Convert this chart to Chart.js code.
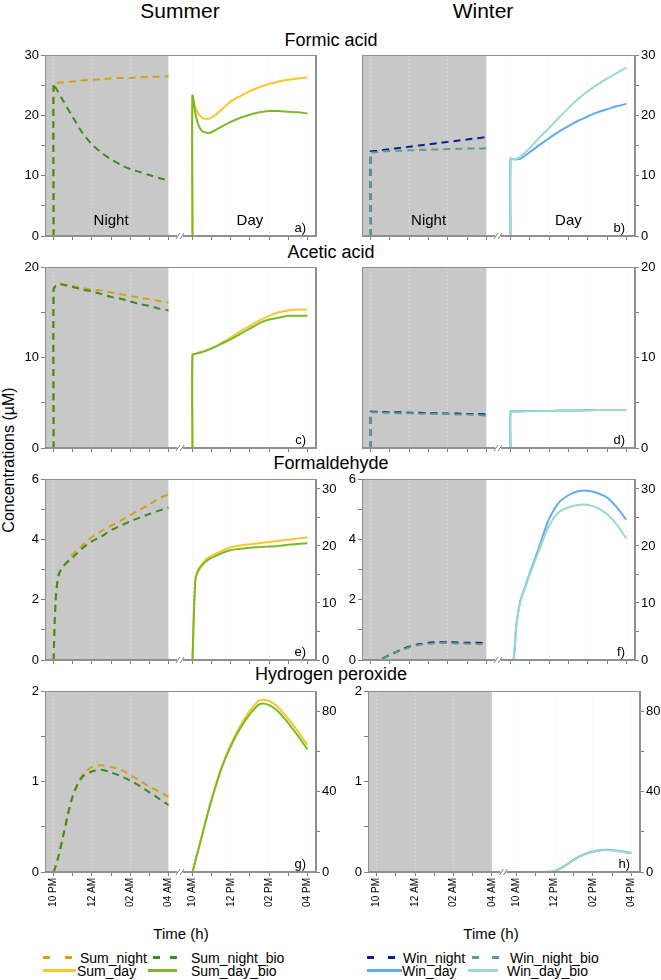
<!DOCTYPE html>
<html>
<head>
<meta charset="utf-8">
<title>Concentrations – summer vs winter</title>
<script src="https://cdn.jsdelivr.net/npm/chart.js@4.4.1/dist/chart.umd.min.js"></script>
<style>
  body { margin: 0; background: #fff; }
  #page { position: relative; width: 661px; height: 980px; overflow: hidden; font-family: 'Liberation Sans', Arial, sans-serif; color: #000; }
  #page canvas { position: absolute; }
  .lbl { position: absolute; white-space: nowrap; line-height: 1; transform: translate(-50%, -50%); }
  .leg { position: absolute; white-space: nowrap; font-size: 14px; line-height: 1; transform: translateY(-50%); }
  .sw { position: absolute; }
</style>
</head>
<body>
<div id="page">
  <div class="lbl" style="left:180px;top:10px;font-size:21px">Summer</div>
  <div class="lbl" style="left:483px;top:10px;font-size:21px">Winter</div>
  <div class="lbl" style="left:331px;top:40px;font-size:18px">Formic acid</div>
  <div class="lbl" style="left:331px;top:252px;font-size:18px">Acetic acid</div>
  <div class="lbl" style="left:331px;top:463px;font-size:18px">Formaldehyde</div>
  <div class="lbl" style="left:331px;top:674px;font-size:18px">Hydrogen peroxide</div>
  <div class="lbl" style="left:9px;top:460px;font-size:16px;transform:translate(-50%,-50%) rotate(-90deg)">Concentrations (µM)</div>
  <div class="lbl" style="left:181px;top:933px;font-size:15px">Time (h)</div>
  <div class="lbl" style="left:491px;top:933px;font-size:15px">Time (h)</div>
</div>
<script>
Chart.defaults.font.family = "'Liberation Sans', Arial, sans-serif";
Chart.defaults.color = '#000';

// x positions: hours after 10 PM for the night run, day run placed after the axis break
const NIGHT_H = [0, 0, 0.1, 0.25, 0.5, 1, 1.5, 2, 2.5, 3, 3.5, 4, 4.5, 5, 5.5, 6];
const DAY_H = [0, 0, 0.15, 0.3, 0.5, 0.75, 1, 1.5, 2, 2.5, 3, 3.5, 4, 4.5, 5, 5.5, 6];
const DAY_START = 7.25;
const NIGHT_END = 6;
const BREAK_AT = 6.6;
const X_MIN = -0.45;
const X_MAX = 13.7;

const X_MAJOR = [0, 2, 4, 6, 7.25, 9.25, 11.25, 13.25];
const X_LABELS = ['10 PM', '12 AM', '02 AM', '04 AM', '10 AM', '12 PM', '02 PM', '04 PM'];
const X_MINOR = [1, 3, 5, 8.25, 10.25, 12.25];

// Formic acid
const FORMIC_SUM_NIGHT = [0, 25.3, 25.3, 25.4, 25.5, 25.6, 25.8, 25.9, 26.0, 26.1, 26.2, 26.2, 26.3, 26.4, 26.4, 26.5];
const FORMIC_SUM_NIGHT_BIO = [0, 25.3, 24.6, 23.8, 22.4, 19.7, 17.1, 15.2, 13.8, 12.7, 11.8, 11.1, 10.6, 10.1, 9.6, 9.2];
const FORMIC_SUM_DAY = [0, 23.2, 21.4, 20.3, 19.6, 19.4, 19.6, 20.9, 22.3, 23.2, 24.0, 24.7, 25.2, 25.6, 25.9, 26.1, 26.3];
const FORMIC_SUM_DAY_BIO = [0, 23.2, 20.3, 18.5, 17.4, 17.1, 17.2, 18.1, 18.9, 19.6, 20.1, 20.5, 20.7, 20.7, 20.6, 20.5, 20.3];
const FORMIC_WIN_NIGHT = [0, 14.0, 14.05, 14.1, 14.2, 14.4, 14.6, 14.8, 15.0, 15.2, 15.4, 15.6, 15.8, 16.0, 16.2, 16.4];
const FORMIC_WIN_NIGHT_BIO = [0, 13.8, 13.85, 13.9, 14.0, 14.1, 14.15, 14.2, 14.25, 14.3, 14.35, 14.4, 14.45, 14.5, 14.5, 14.55];
const FORMIC_WIN_DAY = [0, 12.8, 12.7, 12.7, 12.8, 13.3, 13.9, 15.1, 16.2, 17.3, 18.2, 19.1, 19.8, 20.5, 21.0, 21.5, 21.9];
const FORMIC_WIN_DAY_BIO = [0, 12.8, 12.7, 12.8, 13.1, 13.8, 14.6, 16.3, 17.9, 19.6, 21.2, 22.7, 24.0, 25.1, 26.1, 27.0, 27.9];

// Acetic acid
const ACETIC_SUM_NIGHT = [0, 17.5, 17.9, 18.15, 18.1, 17.9, 17.7, 17.5, 17.4, 17.2, 17.0, 16.8, 16.6, 16.45, 16.25, 16.05];
const ACETIC_SUM_NIGHT_BIO = [0, 17.5, 17.9, 18.1, 18.05, 17.8, 17.5, 17.3, 17.0, 16.7, 16.5, 16.2, 15.9, 15.7, 15.4, 15.2];
const ACETIC_SUM_DAY = [0, 10.3, 10.4, 10.5, 10.6, 10.8, 11.0, 11.6, 12.2, 12.9, 13.5, 14.1, 14.6, 15.0, 15.2, 15.3, 15.3];
const ACETIC_SUM_DAY_BIO = [0, 10.3, 10.4, 10.5, 10.6, 10.8, 11.0, 11.5, 12.0, 12.6, 13.2, 13.8, 14.2, 14.4, 14.6, 14.6, 14.6];
const ACETIC_WIN_NIGHT = [0, 4.0, 4.0, 4.0, 4.0, 3.95, 3.95, 3.9, 3.9, 3.85, 3.85, 3.8, 3.8, 3.75, 3.75, 3.7];
const ACETIC_WIN_NIGHT_BIO = [0, 3.95, 3.95, 3.95, 3.9, 3.9, 3.85, 3.85, 3.8, 3.8, 3.75, 3.75, 3.7, 3.7, 3.65, 3.6];
const ACETIC_WIN_DAY = [0, 4.05, 4.05, 4.05, 4.05, 4.1, 4.1, 4.1, 4.1, 4.15, 4.15, 4.15, 4.2, 4.2, 4.2, 4.2, 4.2];
const ACETIC_WIN_DAY_BIO = [0, 4.0, 4.0, 4.0, 4.0, 4.05, 4.05, 4.1, 4.1, 4.1, 4.15, 4.15, 4.15, 4.2, 4.2, 4.2, 4.2];

// Formaldehyde (night on left axis, day on right axis)
const HCHO_SUM_NIGHT = [0, 0, 1.9, 2.8, 3.1, 3.5, 3.8, 4.07, 4.28, 4.45, 4.62, 4.8, 4.98, 5.15, 5.35, 5.5];
const HCHO_SUM_NIGHT_BIO = [0, 0, 1.9, 2.8, 3.1, 3.4, 3.7, 3.93, 4.1, 4.3, 4.45, 4.6, 4.72, 4.84, 4.95, 5.05];
const HCHO_SUM_DAY = [0, 0, 14.3, 15.9, 16.9, 17.8, 18.3, 19.1, 19.8, 20.1, 20.3, 20.5, 20.7, 20.9, 21.1, 21.3, 21.5];
const HCHO_SUM_DAY_BIO = [0, 0, 14.0, 15.6, 16.6, 17.4, 17.9, 18.7, 19.3, 19.5, 19.7, 19.8, 19.9, 20.0, 20.2, 20.35, 20.5];
const HCHO_WIN_NIGHT = [0, 0, 0, 0, 0.02, 0.17, 0.32, 0.44, 0.52, 0.57, 0.59, 0.59, 0.58, 0.57, 0.57, 0.56];
const HCHO_WIN_NIGHT_BIO = [0, 0, 0, 0, 0.02, 0.16, 0.3, 0.42, 0.5, 0.54, 0.56, 0.56, 0.55, 0.54, 0.53, 0.53];
const HCHO_WIN_DAY = [0, 0, 0, 6.0, 10.3, 12.8, 15.3, 20.0, 24.8, 27.6, 28.9, 29.6, 29.7, 29.3, 28.5, 26.8, 24.6];
const HCHO_WIN_DAY_BIO = [0, 0, 0, 6.0, 10.2, 12.6, 15.0, 19.4, 23.6, 25.9, 26.8, 27.2, 27.2, 26.7, 25.6, 23.8, 21.3];

// Hydrogen peroxide (night on left axis, day on right axis)
const H2O2_SUM_NIGHT = [0, 0, 0.06, 0.17, 0.4, 0.84, 1.07, 1.16, 1.18, 1.16, 1.13, 1.07, 1.01, 0.94, 0.89, 0.83];
const H2O2_SUM_NIGHT_BIO = [0, 0, 0.06, 0.17, 0.4, 0.84, 1.05, 1.11, 1.13, 1.1, 1.06, 1.01, 0.95, 0.88, 0.81, 0.74];
const H2O2_SUM_DAY = [0, 0, 5.5, 11.0, 18.2, 27.5, 36.3, 51.6, 63.3, 72.8, 80.2, 85.3, 85.0, 81.6, 76.2, 70.0, 63.2];
const H2O2_SUM_DAY_BIO = [0, 0, 5.5, 11.0, 18.2, 27.5, 36.0, 51.0, 62.5, 71.5, 78.5, 83.4, 83.0, 79.6, 74.0, 67.8, 61.0];
const H2O2_WIN_NIGHT = [0, 0, 0, 0, 0, 0, 0, 0, 0, 0, 0, 0, 0, 0, 0, 0];
const H2O2_WIN_NIGHT_BIO = [0, 0, 0, 0, 0, 0, 0, 0, 0, 0, 0, 0, 0, 0, 0, 0];
const H2O2_WIN_DAY = [0, 0, 0, 0, 0, 0, 0, 0.05, 0.4, 2.9, 6.1, 8.6, 10.2, 11.0, 10.9, 10.3, 9.5];
const H2O2_WIN_DAY_BIO = [0, 0, 0, 0, 0, 0, 0, 0.05, 0.3, 2.7, 5.9, 8.4, 10.0, 10.8, 10.7, 10.1, 9.2];

const SUM = { night: '#D4A017', nightBio: '#3A8C1F', day: '#F8C62C', dayBio: '#7CB928', names: ['Sum_night', 'Sum_night_bio', 'Sum_day', 'Sum_day_bio'] };
const WIN = { night: '#0B1C8F', nightBio: '#5C9F88', day: '#62ACEE', dayBio: '#9AD9CB', names: ['Win_night', 'Win_night_bio', 'Win_day', 'Win_day_bio'] };

const SHADE = '#C8C8C8';
const FRAME = '#909090';
const TICK = '#808080';
const GRID_NIGHT = 'rgba(255,255,255,0.3)';
const GRID_DAY = 'rgba(0,0,0,0.06)';
const FONT = "'Liberation Sans', Arial, sans-serif";

const LEFT_COL = { x: 0, lw: 45, pw: 271, rw: 24 };
const RIGHT_COL = { x: 317, lw: 45, pw: 273, rw: 26 };
const RIGHT_COL_H = { x: 323, lw: 45, pw: 272, rw: 21 };
const PLOT_H = 181;
const TOP_PAD = 10;

const panelDeco = {
  id: 'panelDeco',
  beforeDraw(chart) {
    const { ctx, chartArea: a, scales } = chart;
    const xn = scales.x.getPixelForValue(NIGHT_END);
    ctx.save();
    ctx.fillStyle = SHADE;
    ctx.fillRect(a.left, a.top, xn - a.left, a.bottom - a.top);
    ctx.restore();
  },
  afterDraw(chart, args, opts) {
    const { ctx, chartArea: a, scales } = chart;
    ctx.save();
    ctx.strokeStyle = FRAME;
    ctx.lineWidth = 1;
    ctx.strokeRect(Math.round(a.left) + 0.5, Math.round(a.top) + 0.5,
      Math.round(a.right - a.left) - 1, Math.round(a.bottom - a.top) - 1);

    // axis break "//"
    const xb = scales.x.getPixelForValue(BREAK_AT);
    ctx.fillStyle = '#fff';
    ctx.fillRect(xb - 3, a.bottom - 2, 6, 4);
    ctx.strokeStyle = TICK;
    ctx.beginPath();
    [-2, 2].forEach((d) => {
      ctx.moveTo(xb + d - 2, a.bottom + 3);
      ctx.lineTo(xb + d + 2, a.bottom - 3);
    });
    ctx.stroke();

    ctx.fillStyle = '#000';
    ctx.font = '13px ' + FONT;
    ctx.textAlign = 'right';
    ctx.textBaseline = 'middle';
    ctx.fillText(opts.letter + ')', a.right - 10, a.bottom - 8);
    if (opts.nightDay) {
      ctx.font = '15px ' + FONT;
      ctx.textAlign = 'center';
      ctx.fillText('Night', scales.x.getPixelForValue(3), a.bottom - 15);
      ctx.fillText('Day', scales.x.getPixelForValue(10.25), a.bottom - 15);
    }
    ctx.restore();
  },
};

function lineSet(label, hours, offset, values, color, dashed, axis) {
  return {
    label,
    data: hours.map((h, i) => ({ x: h + offset, y: values[i] })),
    borderColor: color,
    borderWidth: 2,
    borderDash: dashed ? [7, 5] : [],
    pointRadius: 0,
    tension: 0.3,
    fill: false,
    yAxisID: axis,
  };
}

function yScale(position, cfg, width) {
  return {
    position,
    min: 0,
    max: cfg.max,
    afterBuildTicks: (s) => {
      const t = [];
      for (let v = 0; v <= cfg.max + 1e-9; v += cfg.step / 2) t.push({ value: +v.toFixed(3) });
      s.ticks = t;
    },
    afterFit: (s) => { s.width = width; s.paddingTop = 0; s.paddingBottom = 0; },
    ticks: {
      display: cfg.show,
      padding: 2,
      font: { size: 13 },
      color: '#000',
      callback: (v) => (Math.abs(v / cfg.step - Math.round(v / cfg.step)) < 1e-6 ? String(v) : ''),
    },
    grid: { drawOnChartArea: false, drawTicks: cfg.show, tickLength: 4, tickColor: TICK, color: TICK },
    border: { display: true, color: FRAME },
  };
}

function xScale(showLabels, height) {
  return {
    type: 'linear',
    min: X_MIN,
    max: X_MAX,
    afterBuildTicks: (s) => {
      s.ticks = X_MAJOR.concat(X_MINOR).sort((p, q) => p - q).map((v) => ({ value: v }));
    },
    afterFit: (s) => { s.height = height; s.paddingLeft = 0; s.paddingRight = 0; },
    ticks: {
      display: showLabels,
      autoSkip: false,
      minRotation: 90,
      maxRotation: 90,
      padding: 2,
      font: { size: 10 },
      color: '#000',
      callback: (v) => { const i = X_MAJOR.indexOf(v); return i >= 0 ? X_LABELS[i] : ''; },
    },
    grid: {
      drawOnChartArea: true,
      drawTicks: true,
      tickLength: 4,
      tickColor: TICK,
      color: (c) => {
        if (!c.tick || !X_MAJOR.includes(c.tick.value)) return 'rgba(0,0,0,0)';
        return c.tick.value <= NIGHT_END ? GRID_NIGHT : GRID_DAY;
      },
    },
    border: { display: true, color: FRAME, dash: [2, 2] },
  };
}

function drawPanel(p) {
  const col = p.col;
  const bottomH = p.xLabels ? 45 : 10;
  const w = col.lw + col.pw + col.rw;
  const h = TOP_PAD + PLOT_H + bottomH;
  const canvas = document.createElement('canvas');
  canvas.width = w;
  canvas.height = h;
  canvas.style.left = col.x + 'px';
  canvas.style.top = (p.top - TOP_PAD) + 'px';
  canvas.style.width = w + 'px';
  canvas.style.height = h + 'px';
  document.getElementById('page').appendChild(canvas);

  const s = p.season;
  const nAx = p.nightAxis;
  const dAx = p.dayAxis;
  new Chart(canvas.getContext('2d'), {
    type: 'line',
    data: {
      datasets: [
        lineSet(s.names[1], NIGHT_H, 0, p.data[1], s.nightBio, true, nAx),
        lineSet(s.names[0], NIGHT_H, 0, p.data[0], s.night, true, nAx),
        lineSet(s.names[3], DAY_H, DAY_START, p.data[3], s.dayBio, false, dAx),
        lineSet(s.names[2], DAY_H, DAY_START, p.data[2], s.day, false, dAx),
      ],
    },
    options: {
      responsive: false,
      animation: false,
      events: [],
      layout: { padding: { top: TOP_PAD, left: 0, right: 0, bottom: 0 } },
      plugins: {
        legend: { display: false },
        tooltip: { enabled: false },
        panelDeco: { letter: p.letter, nightDay: !!p.nightDay },
      },
      scales: {
        x: xScale(!!p.xLabels, bottomH),
        y: yScale('left', p.yL, col.lw),
        y2: yScale('right', p.yR, col.rw),
      },
    },
    plugins: [panelDeco],
  });
}

function addLegendItem(x0, x1, y, color, dashed, text, tx) {
  const page = document.getElementById('page');
  const parts = dashed ? [[x0, x0 + 7], [x1 - 7, x1]] : [[x0, x1]];
  parts.forEach(([a, b]) => {
    const d = document.createElement('div');
    d.className = 'sw';
    d.style.left = a + 'px';
    d.style.width = (b - a) + 'px';
    d.style.top = (y - (dashed ? 1 : 1.5)) + 'px';
    d.style.height = (dashed ? 2.5 : 3) + 'px';
    d.style.background = color;
    page.appendChild(d);
  });
  const t = document.createElement('div');
  t.className = 'leg';
  t.style.left = tx + 'px';
  t.style.top = (y + 0.5) + 'px';
  t.textContent = text;
  page.appendChild(t);
}

const ROW_TOPS = [55, 267, 479, 691];

drawPanel({ letter: 'a', col: LEFT_COL, top: ROW_TOPS[0], season: SUM, nightDay: true,
  data: [FORMIC_SUM_NIGHT, FORMIC_SUM_NIGHT_BIO, FORMIC_SUM_DAY, FORMIC_SUM_DAY_BIO],
  nightAxis: 'y', dayAxis: 'y', yL: { max: 30, step: 10, show: true }, yR: { max: 30, step: 10, show: false } });
drawPanel({ letter: 'b', col: RIGHT_COL, top: ROW_TOPS[0], season: WIN, nightDay: true,
  data: [FORMIC_WIN_NIGHT, FORMIC_WIN_NIGHT_BIO, FORMIC_WIN_DAY, FORMIC_WIN_DAY_BIO],
  nightAxis: 'y2', dayAxis: 'y2', yL: { max: 30, step: 10, show: false }, yR: { max: 30, step: 10, show: true } });
drawPanel({ letter: 'c', col: LEFT_COL, top: ROW_TOPS[1], season: SUM,
  data: [ACETIC_SUM_NIGHT, ACETIC_SUM_NIGHT_BIO, ACETIC_SUM_DAY, ACETIC_SUM_DAY_BIO],
  nightAxis: 'y', dayAxis: 'y', yL: { max: 20, step: 10, show: true }, yR: { max: 20, step: 10, show: false } });
drawPanel({ letter: 'd', col: RIGHT_COL, top: ROW_TOPS[1], season: WIN,
  data: [ACETIC_WIN_NIGHT, ACETIC_WIN_NIGHT_BIO, ACETIC_WIN_DAY, ACETIC_WIN_DAY_BIO],
  nightAxis: 'y2', dayAxis: 'y2', yL: { max: 20, step: 10, show: false }, yR: { max: 20, step: 10, show: true } });
drawPanel({ letter: 'e', col: LEFT_COL, top: ROW_TOPS[2], season: SUM,
  data: [HCHO_SUM_NIGHT, HCHO_SUM_NIGHT_BIO, HCHO_SUM_DAY, HCHO_SUM_DAY_BIO],
  nightAxis: 'y', dayAxis: 'y2', yL: { max: 6, step: 2, show: true }, yR: { max: 31.75, step: 10, show: true } });
drawPanel({ letter: 'f', col: RIGHT_COL, top: ROW_TOPS[2], season: WIN,
  data: [HCHO_WIN_NIGHT, HCHO_WIN_NIGHT_BIO, HCHO_WIN_DAY, HCHO_WIN_DAY_BIO],
  nightAxis: 'y', dayAxis: 'y2', yL: { max: 6, step: 2, show: true }, yR: { max: 31.75, step: 10, show: true } });
drawPanel({ letter: 'g', col: LEFT_COL, top: ROW_TOPS[3], season: SUM, xLabels: true,
  data: [H2O2_SUM_NIGHT, H2O2_SUM_NIGHT_BIO, H2O2_SUM_DAY, H2O2_SUM_DAY_BIO],
  nightAxis: 'y', dayAxis: 'y2', yL: { max: 2, step: 1, show: true }, yR: { max: 90, step: 40, show: true } });
drawPanel({ letter: 'h', col: RIGHT_COL_H, top: ROW_TOPS[3], season: WIN, xLabels: true,
  data: [H2O2_WIN_NIGHT, H2O2_WIN_NIGHT_BIO, H2O2_WIN_DAY, H2O2_WIN_DAY_BIO],
  nightAxis: 'y', dayAxis: 'y2', yL: { max: 2, step: 1, show: true }, yR: { max: 90, step: 40, show: true } });

// legend
addLegendItem(43, 72, 957, SUM.night, true, 'Sum_night', 80);
addLegendItem(153, 177, 957, SUM.nightBio, true, 'Sum_night_bio', 191);
addLegendItem(43, 76, 970, SUM.day, false, 'Sum_day', 77);
addLegendItem(148, 177, 970, SUM.dayBio, false, 'Sum_day_bio', 191);
addLegendItem(367, 395, 957, WIN.night, true, 'Win_night', 403);
addLegendItem(472, 499, 957, WIN.nightBio, true, 'Win_night_bio', 510);
addLegendItem(367, 402, 970, WIN.day, false, 'Win_day', 402);
addLegendItem(468, 498, 970, WIN.dayBio, false, 'Win_day_bio', 507);
</script>
</body>
</html>
